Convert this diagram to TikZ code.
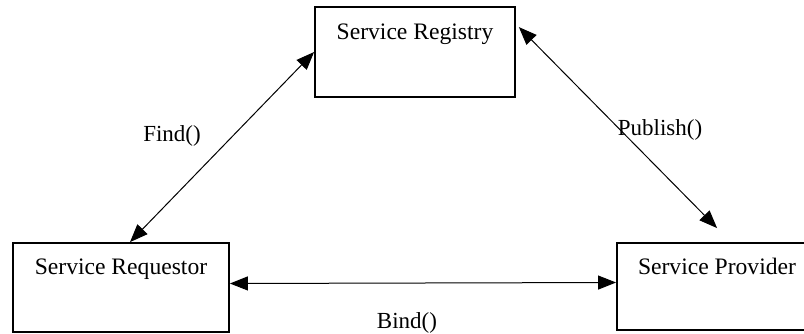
\documentclass[tikz,border=0pt]{standalone}
\usepackage{fontspec}
\setmainfont{Liberation Serif}
\usetikzlibrary{calc,arrows.meta}
\tikzset{svcbox/.style = {draw, line width=0.9pt, inner sep=0pt, minimum width=#1},
         svctext/.style = {anchor=base, font=\fontsize{11.8}{14}\selectfont},
         call/.style = {{Triangle[length=9pt,width=7pt]}-{Triangle[length=9pt,width=7pt]}, line width=0.5pt},
         lbl/.style = {font=\fontsize{11.5}{14}\selectfont}}

\begin{document}
\begin{tikzpicture}[x=0.5pt, y=-0.5pt]
  \useasboundingbox (0,0) rectangle (804,333);
    % the three boxes
    \node[svcbox=100pt, minimum height=45pt] (reg) at (415,52) {};
    \node[svcbox=108pt, minimum height=44.5pt] (req) at (121,287.5) {};
    \node[svcbox=100pt, minimum height=43.5pt] (prov) at (717,286.5) {};
    \node[svctext] (regtxt) at ([yshift=-16.5pt]reg.north) {Service Registry};
    \node[svctext] (reqtxt) at ([yshift=-16pt]req.north) {Service Requestor};
    \node[svctext] (provtxt) at ([yshift=-16pt]prov.north) {Service Provider};
    % calls between them
    \coordinate (pubend) at ($(prov.north west)+(101,-14)$);
    \draw[call] ($(req.north)+(9,0)$) -- (reg.west);
    \draw[call] ($(reg.north east)+(3,21)$) -- (pubend);
    \draw[call] ([yshift=2pt]req.east) -- ([yshift=2pt]prov.west);
    \node[lbl] (findlbl) at (172,136) {Find()};
    \node[lbl] (publbl) at (660,130) {Publish()};
    \node[lbl] (bindlbl) at (407,323) {Bind()};
  \end{tikzpicture}
\end{document}
